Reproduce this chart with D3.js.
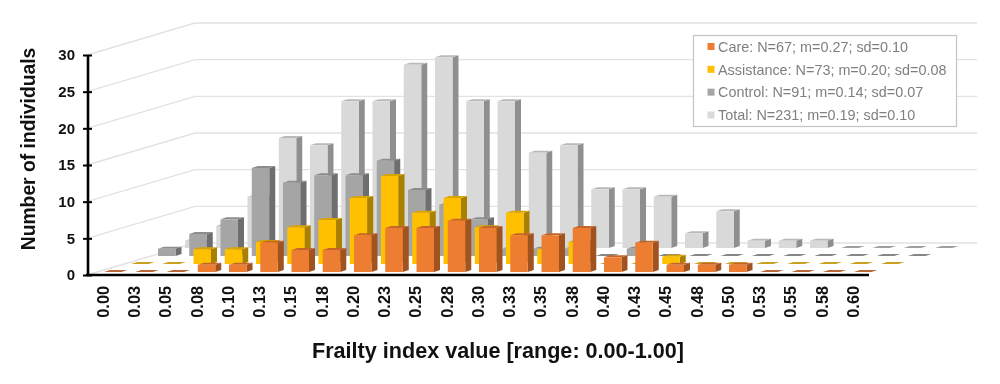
<!DOCTYPE html>
<html>
<head>
<meta charset="utf-8">
<script src="https://cdn.jsdelivr.net/npm/d3@7"></script>
<style>
  html, body { margin: 0; padding: 0; background: #fff; }
  svg { display: block; filter: blur(0.4px); }
  text { font-family: "Liberation Sans", Arial, sans-serif; }
</style>
</head>
<body>
<svg id="chart"></svg>
<script>
// Values
var categories = ["0.00","0.03","0.05","0.08","0.10","0.13","0.15","0.18","0.20","0.23","0.25","0.28","0.30",
                  "0.33","0.35","0.38","0.40","0.43","0.45","0.48","0.50","0.53","0.55","0.58","0.60"];
var care       = [0,0,0,1,1,4,3,3,5,6,6,7,6,5,5,6,2,4,1,1,1,0,0,0,0];
var assistance = [0,0,2,2,3,5,6,9,12,7,9,5,7,2,3,0,0,1,0,0,0,0,0,0,0];
var control    = [1,3,5,12,10,11,11,13,9,7,5,1,1,1,0,1,0,0,0,0,0,0,0,0,0];
var total      = [1,3,7,15,14,20,20,25,26,20,20,13,14,8,8,7,2,5,1,1,1,0,0,0,0];
var yTicks = [0,5,10,15,20,25,30];
var legendLabels = ["Care: N=67; m=0.27; sd=0.10", "Assistance: N=73; m=0.20; sd=0.08",
                    "Control: N=91; m=0.14; sd=0.07", "Total: N=231; m=0.19; sd=0.10"];

var width = 1000, height = 384;

// front to back
var rows = [
  { values: care,       face: "#ed7d31", side: "#a0521f", top: "#c4652a", flat: "#b9683a" },
  { values: assistance, face: "#ffc000", side: "#aa8000", top: "#d9a300", flat: "#c9a020" },
  { values: control,    face: "#a5a5a5", side: "#6e6e6e", top: "#8c8c8c", flat: "#868686" },
  { values: total,      face: "#d9d9d9", side: "#8f8f8f", top: "#b9b9b9", flat: "#a0a0a0" }
];

var svg = d3.select("#chart").attr("width", width).attr("height", height);

var x = d3.scalePoint().domain(categories).range([104, 854]);
var y = d3.scaleLinear().domain([0, 30]).range([275, 55]);
var depth = d3.scaleLinear().domain([0, 4]).range([0, 1]);

// the oblique floor
var floorDx = 108, floorDy = -32;
var barW = 17.5, sideDx = 6, sideDy = -2;

// walls
var grid = svg.append("g");
yTicks.forEach(function (t) {
  grid.append("path")
    .attr("fill", "none")
    .attr("stroke", "#e2e2e2")
    .attr("stroke-width", 1.4)
    .attr("d", d3.line()([
      [87, y(t)],
      [87 + floorDx, y(t) + floorDy],
      [977, y(t) + floorDy]
    ]));
});

// bars, back row first
d3.range(3, -1, -1).forEach(function (r) {
  var row = rows[r];
  var dx = floorDx * depth(r), base = 272 + floorDy * depth(r);
  var g = svg.append("g");
  var bars = g.selectAll("g").data(row.values).enter().append("g")
    .attr("transform", function (d, i) { return "translate(" + (x(categories[i]) + dx) + "," + base + ")"; });

  bars.each(function (d) {
    var b = d3.select(this);
    var h = y(0) - y(d);
    if (d === 0) {
      b.append("path")
        .attr("fill", row.flat)
        .attr("d", d3.line()([[0, 0], [barW, 0], [barW + sideDx, sideDy], [sideDx, sideDy]]));
      return;
    }
    b.append("path")
      .attr("fill", row.side)
      .attr("d", d3.line()([[barW, 0], [barW + sideDx, sideDy], [barW + sideDx, sideDy - h], [barW, -h]]));
    b.append("path")
      .attr("fill", row.top)
      .attr("d", d3.line()([[0, -h], [barW, -h], [barW + sideDx, sideDy - h], [sideDx, sideDy - h]]));
    b.append("rect")
      .attr("x", 0)
      .attr("y", -h)
      .attr("width", barW)
      .attr("height", h)
      .attr("fill", row.face);
  });
});

// axes
var yAxis = svg.append("g")
  .attr("transform", "translate(87.5,0)")
  .call(d3.axisLeft(y).tickValues(yTicks).tickSizeOuter(0).tickFormat(d3.format("d")));
yAxis.select(".domain").attr("stroke", "#000").attr("stroke-width", 2.6);
yAxis.selectAll(".tick line")
  .attr("x1", -4.5)
  .attr("x2", 4.5)
  .attr("stroke", "#000")
  .attr("stroke-width", 2);
yAxis.selectAll("text")
  .attr("x", -12.5)
  .attr("fill", "#111")
  .style("font-size", "15px")
  .style("font-weight", "bold");

var xAxis = svg.append("g")
  .attr("transform", "translate(0,275)")
  .call(d3.axisBottom(x).tickSize(0).tickPadding(0));
xAxis.select(".domain").remove();
xAxis.selectAll("text")
  .attr("fill", "#111")
  .attr("transform", "translate(-1.3,11) rotate(-90)")
  .attr("x", 0)
  .attr("y", 0)
  .attr("dy", "0.35em")
  .attr("text-anchor", "end")
  .style("font-size", "16.3px")
  .style("font-weight", "bold");

svg.append("line")
  .attr("x1", 86).attr("x2", 869)
  .attr("y1", 275).attr("y2", 275)
  .attr("stroke", "#000")
  .attr("stroke-width", 2.4);

// axis titles
svg.append("text")
  .attr("transform", "translate(34.5,149) rotate(-90)")
  .attr("text-anchor", "middle")
  .attr("fill", "#111")
  .style("font-size", "19.3px")
  .style("font-weight", "bold")
  .text("Number of individuals");

svg.append("text")
  .attr("x", 498)
  .attr("y", 358)
  .attr("text-anchor", "middle")
  .attr("fill", "#111")
  .style("font-size", "21.6px")
  .style("font-weight", "bold")
  .text("Frailty index value [range: 0.00-1.00]");

// legend
var legend = svg.append("g");
legend.append("rect")
  .attr("x", 693.5).attr("y", 35.5)
  .attr("width", 263).attr("height", 91)
  .attr("fill", "#fff")
  .attr("stroke", "#c4c4c4")
  .attr("stroke-width", 1.2);

var rowY = d3.scalePoint().domain(legendLabels).range([46.5, 115]);
legendLabels.forEach(function (label, i) {
  legend.append("rect")
    .attr("x", 707.5).attr("y", rowY(label) - 3.5)
    .attr("width", 7).attr("height", 7)
    .attr("fill", rows[i].face);
  legend.append("text")
    .attr("x", 718).attr("y", rowY(label))
    .attr("dy", "0.36em")
    .attr("fill", "#7f7f7f")
    .style("font-size", "14.4px")
    .text(label);
});
</script>
</body>
</html>
